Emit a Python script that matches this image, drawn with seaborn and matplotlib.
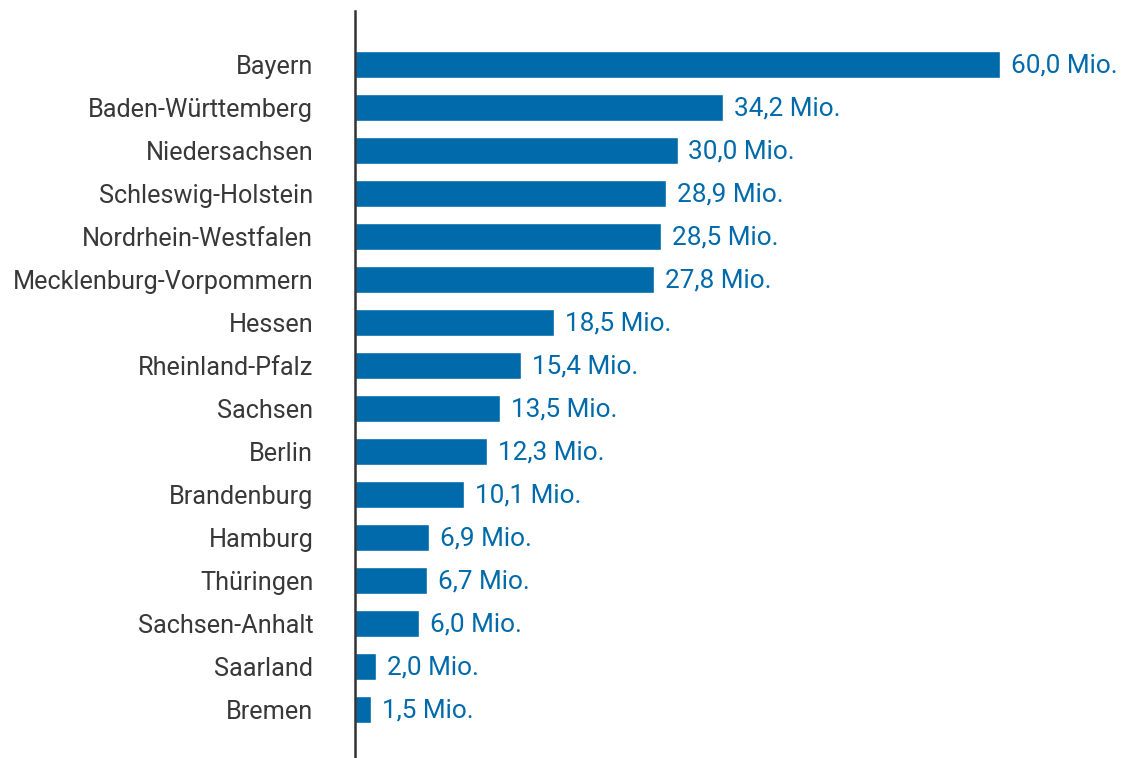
import matplotlib
matplotlib.use("Agg")
import matplotlib.pyplot as plt
import seaborn as sns
import pandas as pd

states = ["Bayern", "Baden-Württemberg", "Niedersachsen", "Schleswig-Holstein",
          "Nordrhein-Westfalen", "Mecklenburg-Vorpommern", "Hessen", "Rheinland-Pfalz",
          "Sachsen", "Berlin", "Brandenburg", "Hamburg", "Thüringen", "Sachsen-Anhalt",
          "Saarland", "Bremen"]
values = [60.0, 34.2, 30.0, 28.9, 28.5, 27.8, 18.5, 15.4, 13.5, 12.3, 10.1, 6.9, 6.7, 6.0, 2.0, 1.5]
value_labels = ["60,0 Mio.", "34,2 Mio.", "30,0 Mio.", "28,9 Mio.", "28,5 Mio.", "27,8 Mio.",
                "18,5 Mio.", "15,4 Mio.", "13,5 Mio.", "12,3 Mio.", "10,1 Mio.", "6,9 Mio.",
                "6,7 Mio.", "6,0 Mio.", "2,0 Mio.", "1,5 Mio."]

sns.set_theme(style="white")
plt.rcParams['font.family'] = ['Roboto', 'DejaVu Sans']

df = pd.DataFrame({"state": states, "value": values})

W, H = 1126, 758
fig = plt.figure(figsize=(W / 100, H / 100), dpi=100)
left_px = 355
top_px = 11
ax = fig.add_axes([left_px / W, 0, 1 - left_px / W, (H - top_px) / H])

bar_color = "#006aaa"
sns.barplot(data=df, y="state", x="value", orient="h", color=bar_color,
            saturation=1, width=0.62, ax=ax)

px_per_unit = 10.75
ax.set_xlim(0, (W - left_px) / px_per_unit)
c0, step = 64.5, 43
ax.set_ylim((H - c0) / step, (top_px - c0) / step)

for i, (v, lab) in enumerate(zip(values, value_labels)):
    ax.text(v + 11 / px_per_unit, i + 0.03, lab, color=bar_color, fontsize=18.8,
            va="center", ha="left")

ax.set_xlabel("")
ax.set_ylabel("")
ax.set_xticks([])
ax.tick_params(axis="y", length=0, pad=30, labelsize=18.2, labelcolor="#383838")
for s in ["top", "right", "bottom"]:
    ax.spines[s].set_visible(False)
ax.spines["left"].set_color("#333333")
ax.spines["left"].set_linewidth(1.8)
ax.patch.set_alpha(0)

fig.savefig("out.png", dpi=100)
